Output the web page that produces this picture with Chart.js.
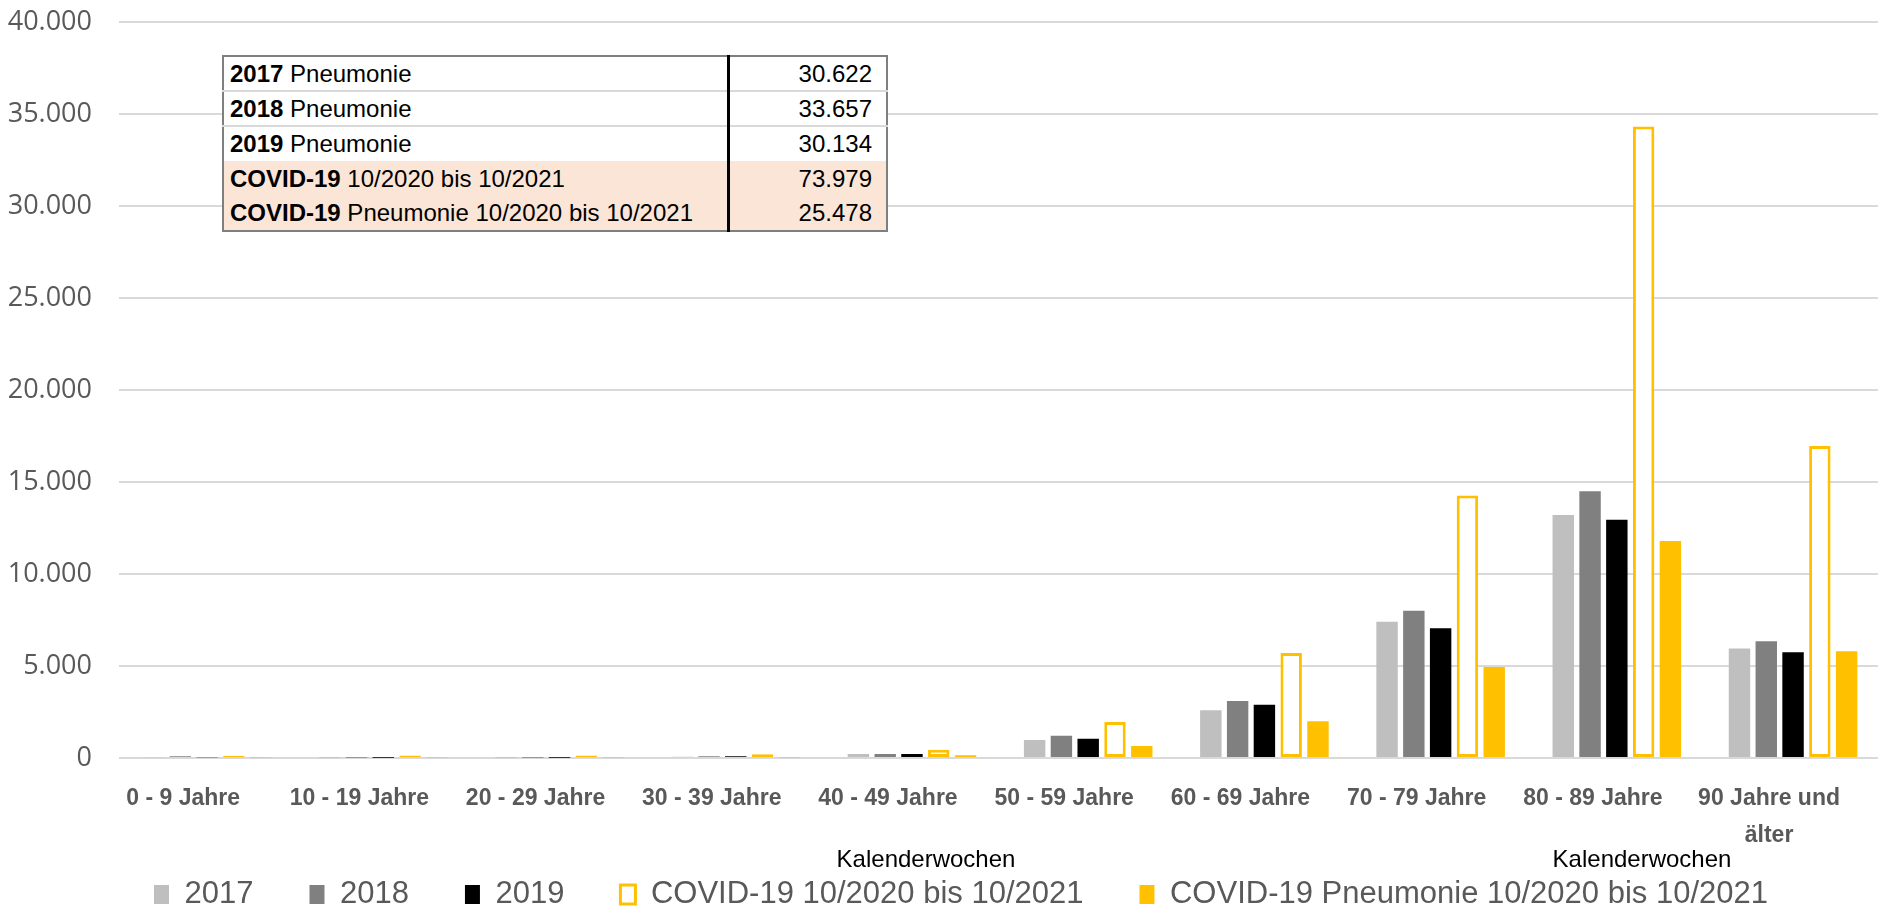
<!DOCTYPE html>
<html lang="de">
<head>
<meta charset="utf-8">
<title>Pneumonie nach Altersgruppen</title>
<script src="https://cdn.jsdelivr.net/npm/chart.js@4.4.1/dist/chart.umd.min.js"></script>
<style>
  html, body { margin: 0; padding: 0; background: #fff; overflow: hidden; }
  #wrap { position: relative; width: 1886px; height: 920px; }
  #summary {
    position: absolute; left: 222px; top: 55px; width: 666px;
    border: 2px solid #7f7f7f; border-collapse: collapse; background: #fff;
    font-family: "Liberation Sans", Arial, sans-serif; font-size: 24px; color: #000;
  }
  #summary td { height: 35px; padding: 0 6px; white-space: nowrap; box-sizing: border-box; }
  #summary td.lbl { width: 505px; }
  #summary td.val { text-align: right; border-left: 3px solid #000; padding-right: 14px; }
  #summary tr.sep td { border-bottom: 2px solid #d9d9d9; }
  #summary tr.covid td { background: #fbe5d6; }
</style>
</head>
<body>
<div id="wrap">
  <canvas id="ageChart" width="1886" height="920"></canvas>
  <table id="summary"></table>
</div>
<script>
// Altersgruppen
const ageGroups = ['0 - 9 Jahre', '10 - 19 Jahre', '20 - 29 Jahre', '30 - 39 Jahre', '40 - 49 Jahre',
  '50 - 59 Jahre', '60 - 69 Jahre', '70 - 79 Jahre', '80 - 89 Jahre', ['90 Jahre und', 'älter']];

// Werte
const pneu2017 = [40, 10, 10, 70, 220, 980, 2600, 7400, 13200, 5950];
const pneu2018 = [90, 10, 20, 90, 220, 1210, 3100, 8000, 14500, 6350];
const pneu2019 = [40, 10, 20, 90, 220, 1050, 2900, 7050, 12950, 5750];
const covidAll = [120, 130, 130, 200, 450, 1950, 5700, 14270, 34320, 16950];
const covidPneu = [30, 30, 30, 30, 150, 650, 2000, 4950, 11800, 5800];

const yTicks = [0, 5000, 10000, 15000, 20000, 25000, 30000, 35000, 40000];

// Summentabelle
const tableBold = ['2017', '2018', '2019', 'COVID-19', 'COVID-19'];
const tableText = ['Pneumonie', 'Pneumonie', 'Pneumonie', '10/2020 bis 10/2021', 'Pneumonie 10/2020 bis 10/2021'];
const tableValues = ['30.622', '33.657', '30.134', '73.979', '25.478'];

const fmt = (v) => String(v).replace(/\B(?=(\d{3})+(?!\d))/g, '.');

function buildTable() {
  const t = document.getElementById('summary');
  tableBold.forEach((b, i) => {
    const tr = document.createElement('tr');
    if (i < 2) tr.className = 'sep';
    if (i >= 3) tr.className = 'covid';
    tr.innerHTML = `<td class="lbl"><b>${b}</b> ${tableText[i]}</td><td class="val">${tableValues[i]}</td>`;
    t.appendChild(tr);
  });
}

// zwei lose "Kalenderwochen"-Beschriftungen unter der Achse
const extraLabels = {
  id: 'extraLabels',
  afterLayout(chart) {
    // x-Achse bis zum Rand ziehen, damit die zweite Zeile nicht abgeschnitten wird
    chart.scales.x.bottom = chart.height;
    // Legende etwas nach rechts
    chart.legend.left += 18;
    chart.legend.right += 18;
  },
  afterDraw(chart) {
    const ctx = chart.ctx;
    ctx.save();
    ctx.font = '24px "Liberation Sans", Arial, sans-serif';
    ctx.fillStyle = '#000';
    ctx.textAlign = 'center';
    ctx.textBaseline = 'middle';
    ctx.fillText('Kalenderwochen', 926, 860);
    ctx.fillText('Kalenderwochen', 1642, 860);
    ctx.restore();
  },
};

function renderAgeChart() {
  const ctx = document.getElementById('ageChart');

  new Chart(ctx, {
    type: 'bar',
    data: {
      labels: ageGroups,
      datasets: [
        { label: '2017', data: pneu2017, backgroundColor: '#bfbfbf', borderWidth: 0 },
        { label: '2018', data: pneu2018, backgroundColor: '#808080', borderWidth: 0 },
        { label: '2019', data: pneu2019, backgroundColor: '#000000', borderWidth: 0 },
        {
          label: 'COVID-19 10/2020 bis 10/2021',
          data: covidAll,
          backgroundColor: '#ffffff',
          borderColor: '#ffc000',
          borderWidth: 3,
          borderSkipped: false,
        },
        { label: 'COVID-19 Pneumonie 10/2020 bis 10/2021', data: covidPneu, backgroundColor: '#ffc000', borderWidth: 0 },
      ],
    },
    options: {
      responsive: false,
      animation: false,
      categoryPercentage: 0.76,
      barPercentage: 0.8,
      layout: { padding: { top: 22, left: 0, right: 0, bottom: 0 } },
      plugins: {
        tooltip: { enabled: false },
        legend: {
          position: 'bottom',
          labels: {
            boxWidth: 15,
            boxHeight: 19,
            padding: 56,
            color: '#595959',
            font: { family: '"Liberation Sans", Arial, sans-serif', size: 31 },
          },
        },
      },
      scales: {
        x: {
          grid: { display: false, drawTicks: false },
          border: { display: false },
          ticks: {
            color: '#595959',
            padding: 22,
            labelOffset: -24,
            maxRotation: 0,
            autoSkip: false,
            font: { family: '"Liberation Sans", Arial, sans-serif', size: 23, weight: 'bold', lineHeight: 1.6 },
          },
          afterFit: (scale) => { scale.height = 65; },
        },
        y: {
          min: 0,
          max: 40000,
          afterBuildTicks: (scale) => { scale.ticks = yTicks.map((v) => ({ value: v })); },
          grid: { color: '#d9d9d9', lineWidth: 2, drawTicks: false },
          border: { display: false },
          ticks: {
            color: '#595959',
            padding: 27,
            font: { family: '"Open Sans", sans-serif', size: 27 },
            callback: (v) => fmt(v),
          },
          afterFit: (scale) => {
            scale.width = 119;
            scale.paddingTop = 0;
            scale.paddingBottom = 0;
          },
        },
      },
    },
    plugins: [extraLabels],
  });
}

buildTable();
renderAgeChart();
</script>
</body>
</html>
